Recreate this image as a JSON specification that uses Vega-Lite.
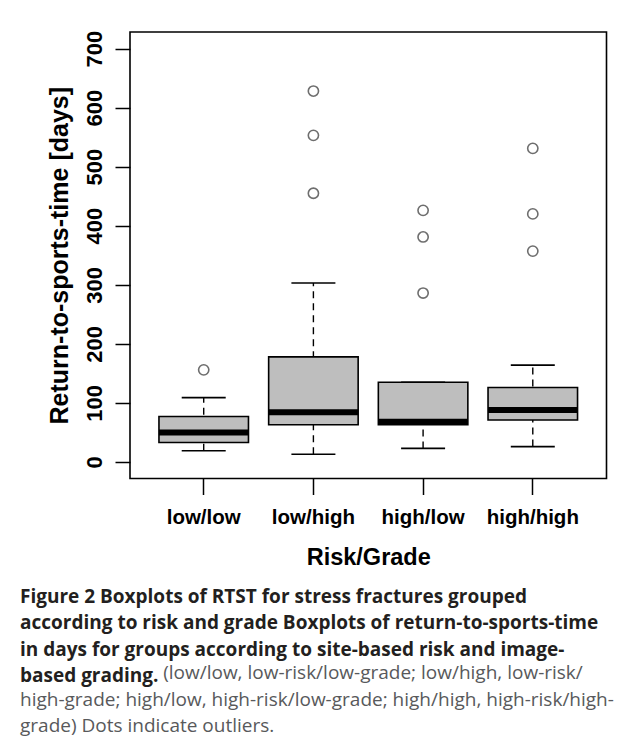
{
  "$schema": "https://vega.github.io/schema/vega-lite/v6.json",
  "width": 476.5,
  "height": 446.5,
  "autosize": {"type": "none"},
  "padding": {"left": 130, "top": 32, "right": 22.5, "bottom": 265.5},
  "background": "white",
  "config": {
    "view": {"stroke": "black", "strokeWidth": 1.6},
    "font": "Liberation Sans",
    "axis": {"grid": false, "domain": false, "tickColor": "black", "tickWidth": 1.5, "labelColor": "black", "titleColor": "black", "labelFont": "Liberation Sans", "titleFont": "Liberation Sans", "labelFontWeight": "bold", "titleFontWeight": "bold"},
    "axisX": {"tickSize": 16, "labelFontSize": 20.5, "labelPadding": 13.3, "labelAngle": 0, "titleFontSize": 23.5, "titlePadding": 17},
    "axisY": {"tickSize": 15, "labelFontSize": 22, "labelPadding": 13.3, "labelAngle": 270, "labelAlign": "center", "labelBaseline": "alphabetic", "titleFontSize": 25, "titlePadding": 11}
  },
  "title": {
    "text": [
      "Figure 2 Boxplots of RTST for stress fractures grouped",
      "according to risk and grade Boxplots of return-to-sports-time",
      "in days for groups according to site-based risk and image-",
      "based grading."
    ],
    "subtitle": [
      "\u200b\u00a0\u00a0\u00a0\u00a0\u00a0\u00a0\u00a0\u00a0\u00a0\u00a0\u00a0\u00a0\u00a0\u00a0\u00a0\u00a0\u00a0\u00a0\u00a0\u00a0\u00a0\u00a0\u00a0\u00a0\u00a0\u00a0\u00a0\u00a0\u00a0(low/low, low-risk/low-grade; low/high, low-risk/",
      "high-grade; high/low, high-risk/low-grade; high/high, high-risk/high-",
      "grade) Dots indicate outliers."
    ],
    "orient": "bottom",
    "anchor": "start",
    "frame": "group",
    "align": "left",
    "dx": -110,
    "offset": 19,
    "font": "Open Sans",
    "fontSize": 19,
    "fontWeight": "bold",
    "color": "#231f20",
    "lineHeight": 26.5,
    "subtitleFont": "Open Sans",
    "subtitleFontSize": 19,
    "subtitleFontWeight": "normal",
    "subtitleColor": "#58595b",
    "subtitleLineHeight": 26.5,
    "subtitlePadding": -22
  },
  "datasets": {
    "boxes": [
      {"group": "low/low", "lower": 19, "q1": 33, "median": 50, "q3": 77, "upper": 109},
      {"group": "low/high", "lower": 13, "q1": 63, "median": 84, "q3": 178, "upper": 303},
      {"group": "high/low", "lower": 23, "q1": 63, "median": 68, "q3": 135, "upper": 135},
      {"group": "high/high", "lower": 26, "q1": 71, "median": 88, "q3": 126, "upper": 164}
    ],
    "outliers": [
      {"group": "low/low", "days": 156},
      {"group": "low/high", "days": 628},
      {"group": "low/high", "days": 553},
      {"group": "low/high", "days": 455},
      {"group": "high/low", "days": 426},
      {"group": "high/low", "days": 381},
      {"group": "high/low", "days": 286},
      {"group": "high/high", "days": 531},
      {"group": "high/high", "days": 420},
      {"group": "high/high", "days": 357}
    ]
  },
  "encoding": {
    "x": {
      "field": "group",
      "type": "nominal",
      "title": "Risk/Grade",
      "scale": {"type": "band", "domain": ["low/low", "low/high", "high/low", "high/high"], "paddingInner": 0, "paddingOuter": 0.172}
    }
  },
  "layer": [
    {
      "data": {"name": "boxes"},
      "mark": {"type": "rule", "color": "black", "strokeWidth": 1.4, "strokeDash": [7, 5], "opacity": 1},
      "encoding": {
        "y": {"field": "lower", "type": "quantitative", "title": "Return-to-sports-time [days]", "scale": {"domain": [-28, 728], "nice": false, "zero": false}, "axis": {"values": [0, 100, 200, 300, 400, 500, 600, 700]}},
        "y2": {"field": "upper"}
      }
    },
    {
      "data": {"name": "boxes"},
      "mark": {"type": "tick", "color": "black", "size": 44, "thickness": 1.6, "opacity": 1},
      "encoding": {"y": {"field": "lower", "type": "quantitative", "title": "Return-to-sports-time [days]"}}
    },
    {
      "data": {"name": "boxes"},
      "mark": {"type": "tick", "color": "black", "size": 44, "thickness": 1.6, "opacity": 1},
      "encoding": {"y": {"field": "upper", "type": "quantitative", "title": "Return-to-sports-time [days]"}}
    },
    {
      "data": {"name": "boxes"},
      "mark": {"type": "bar", "fill": "#bebebe", "stroke": "black", "strokeWidth": 1.6, "opacity": 1, "width": {"band": 0.816}},
      "encoding": {
        "y": {"field": "q1", "type": "quantitative", "title": "Return-to-sports-time [days]"},
        "y2": {"field": "q3"}
      }
    },
    {
      "data": {"name": "boxes"},
      "mark": {"type": "tick", "color": "black", "size": 89.5, "thickness": 6, "opacity": 1},
      "encoding": {"y": {"field": "median", "type": "quantitative", "title": "Return-to-sports-time [days]"}}
    },
    {
      "data": {"name": "outliers"},
      "mark": {"type": "point", "shape": "circle", "filled": false, "stroke": "#6e6e6e", "strokeWidth": 1.6, "size": 105, "opacity": 1},
      "encoding": {"y": {"field": "days", "type": "quantitative", "title": "Return-to-sports-time [days]"}}
    }
  ]
}
